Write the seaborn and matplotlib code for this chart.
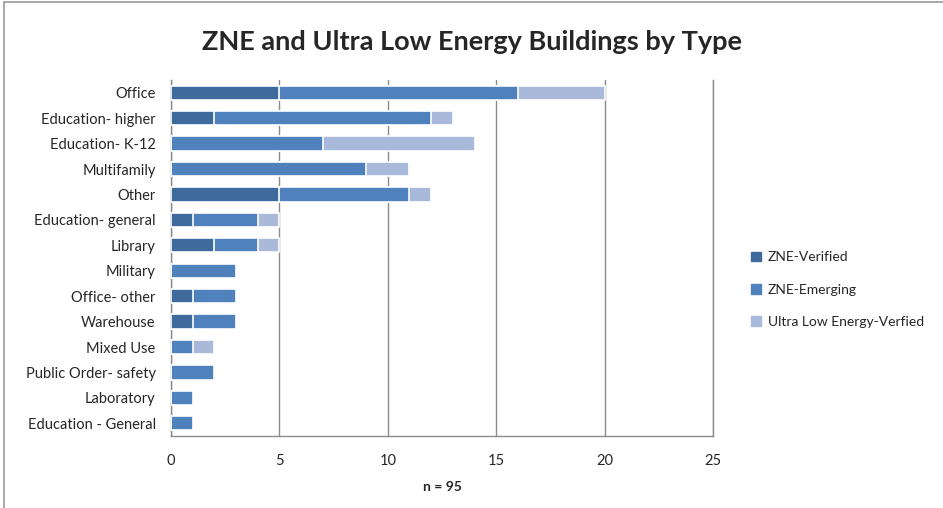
import pandas as pd
import numpy as np
import matplotlib.pyplot as plt
import matplotlib.patches as mpatches
import seaborn as sns

#data
building_types = ["Office", "Education- higher", "Education- K-12", "Multifamily",
                  "Other", "Education- general", "Library", "Military",
                  "Office- other", "Warehouse", "Mixed Use", "Public Order- safety",
                  "Laboratory", "Education - General"]
zne_verified = [5, 2, 0, 0, 5, 1, 2, 0, 1, 1, 0, 0, 0, 0]
zne_emerging = [11, 10, 7, 9, 6, 3, 2, 3, 2, 2, 1, 2, 1, 1]
ule_verified = [4, 1, 7, 2, 1, 1, 1, 0, 0, 0, 1, 0, 0, 0]
x_ticks = [0, 5, 10, 15, 20, 25]

SERIES = ["ZNE-Verified", "ZNE-Emerging", "Ultra Low Energy-Verfied"]
COLORS = ["#3F6A9E", "#4F81BD", "#A9B9D9"]

df = pd.DataFrame({
    "type": building_types,
    "ZNE-Verified": zne_verified,
    "ZNE-Emerging": zne_emerging,
    "Ultra Low Energy-Verfied": ule_verified,
})
#cumulative ends for the stacked segments
df["c1"] = df["ZNE-Verified"]
df["c2"] = df["c1"] + df["ZNE-Emerging"]
df["c3"] = df["c2"] + df["Ultra Low Energy-Verfied"]

sns.set_theme(style="white")
plt.rcParams["font.family"] = ["Lato", "DejaVu Sans"]

fig = plt.figure(figsize=(9.43, 5.08), dpi=100)
ax = fig.add_axes([0.1813, 0.1417, 0.5748, 0.7008])

#draw longest first so the shorter ones sit on top
for col, color in zip(["c3", "c2", "c1"], COLORS[::-1]):
    sns.barplot(data=df, x=col, y="type", orient="h", order=building_types,
                color=color, width=0.56, edgecolor="white", linewidth=1.2,
                saturation=1, ax=ax, zorder=3)

ax.set_xlim(0, 25)
ax.set_xticks(x_ticks)
ax.set_xticklabels([str(t) for t in x_ticks], fontsize=10.5)
ax.tick_params(axis="x", pad=13, length=0)
ax.tick_params(axis="y", length=0, labelsize=10.5, pad=11)
ax.set_ylabel("")
ax.set_xlabel("n = 95", fontsize=10, fontweight="bold", labelpad=9)
ax.xaxis.grid(True, color="#8c8c8c", linewidth=1.0)
ax.set_axisbelow(True)
ax.spines["top"].set_visible(False)
for side in ["left", "bottom", "right"]:
    ax.spines[side].set_color("#8c8c8c")
    ax.spines[side].set_linewidth(1.0)
ax.set_ylim(len(building_types) - 0.5, -0.5)

fig.suptitle("ZNE and Ultra Low Energy Buildings by Type", fontsize=19.5,
             fontweight="bold", x=0.5, y=0.94)

handles = [mpatches.Patch(color=c, label=s) for s, c in zip(SERIES, COLORS)]
fig.legend(handles=handles, loc="center left", bbox_to_anchor=(0.783, 0.43),
           frameon=False, fontsize=10, handlelength=0.7, handleheight=0.7,
           handletextpad=0.5, labelspacing=1.45)

#outer chart border (top and left visible in the crop)
fig.add_artist(plt.Line2D([0.004, 1.0], [0.996, 0.996], color="#9a9a9a",
                          linewidth=1.2, transform=fig.transFigure))
fig.add_artist(plt.Line2D([0.004, 0.004], [0.0, 0.996], color="#9a9a9a",
                          linewidth=1.2, transform=fig.transFigure))

fig.savefig("out.png", dpi=100)
plt.close()
